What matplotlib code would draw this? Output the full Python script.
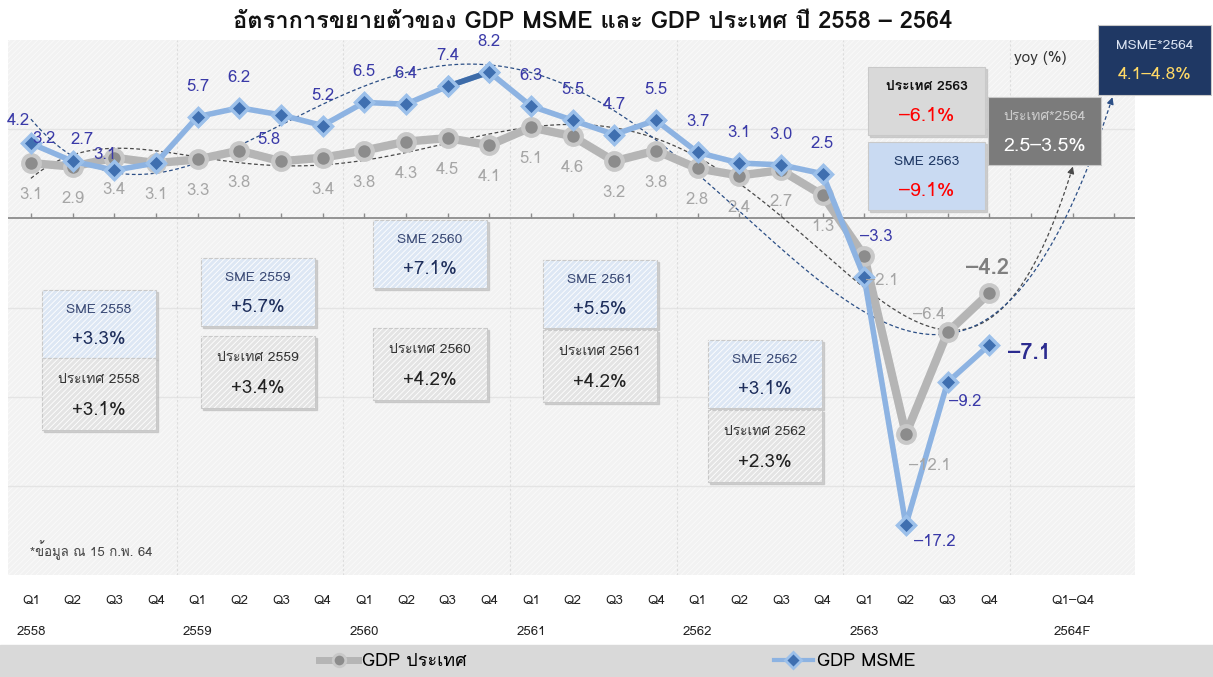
import numpy as np
import matplotlib
matplotlib.use("Agg")
import matplotlib.pyplot as plt
from matplotlib import font_manager, ft2font
from matplotlib.patches import Rectangle
from matplotlib.lines import Line2D

# find a font that has Thai glyphs
def find_thai():
    names = []
    for f in font_manager.fontManager.ttflist:
        try:
            cm = ft2font.FT2Font(f.fname).get_charmap()
        except Exception:
            continue
        if 0x0E01 in cm:
            names.append(f.name)
    return names

thai = find_thai()
FAM = (thai[:1] if thai else []) + ["DejaVu Sans"]
plt.rcParams["font.family"] = FAM
plt.rcParams["hatch.linewidth"] = 0.6

# data
quarters = ["Q1", "Q2", "Q3", "Q4"] * 6 + ["", "Q1–Q4"]
years = ["2558", "2559", "2560", "2561", "2562", "2563", "2564F"]
gdp_country = [3.1, 2.9, 3.4, 3.1, 3.3, 3.8, 3.2, 3.4, 3.8, 4.3, 4.5, 4.1,
               5.1, 4.6, 3.2, 3.8, 2.8, 2.4, 2.7, 1.3, -2.1, -12.1, -6.4, -4.2]
gdp_msme = [4.2, 3.2, 2.7, 3.1, 5.7, 6.2, 5.8, 5.2, 6.5, 6.4, 7.4, 8.2,
            6.3, 5.5, 4.7, 5.5, 3.7, 3.1, 3.0, 2.5, -3.3, -17.2, -9.2, -7.1]
sme_year = ["+3.3%", "+5.7%", "+7.1%", "+5.5%", "+3.1%"]
country_year = ["+3.1%", "+3.4%", "+4.2%", "+4.2%", "+2.3%"]
sme_2563, country_2563 = -9.1, -6.1
country_2564 = (2.5, 3.5)
msme_2564 = (4.1, 4.8)

# label offsets in pixels (dx, dy down)
msme_off = [(-13, -22), (-29, -22), (-32, -30), (-51, -8)] + [(0, -30)] * 2 + [(-12, 25)] + \
           [(0, -30)] * 13 + [(12, -40), (29, 17), (18, 20), (40, 8)]
country_off = [(0, 32)] * 20 + [(18, 25), (24, 32), (-18, -17), (-2, -25)]

W, H = 1213, 677
fig = plt.figure(figsize=(W / 100, H / 100), dpi=100)
ax = fig.add_axes([8 / W, 1 - 575 / H, 1127 / W, 535 / H])
ax.set_facecolor("#f2f2f2")
ax.add_patch(Rectangle((0, 0), 1, 1, transform=ax.transAxes, fill=False,
                       hatch="//////", edgecolor="#fafafa", lw=0, zorder=0))
ax.set_xlim(-0.55, 26.5)
ax.set_ylim(-20, 10)
for s in ax.spines.values():
    s.set_visible(False)
ax.set_xticks([])
ax.set_yticks([])

for yv in [5, -5, -10, -15]:
    ax.axhline(yv, color="#e4e4e4", lw=1, zorder=1)
for xv in np.arange(3.5, 24, 4):
    ax.axvline(xv, color="#dddddd", lw=0.8, ls=(0, (2, 2)), zorder=1)
ax.axhline(0, color="#8c8c8c", lw=1.3, zorder=2)
ax.vlines(np.arange(27), 0, 0.3, color="#8c8c8c", lw=1, zorder=2)

x = np.arange(len(gdp_msme))

# polynomial trend lines (fitted with the 2564 forecast midpoint), ending at the forecast boxes
inv = ax.transData.inverted()
for vals, fc, deg, box_bottom, col in [(gdp_country, np.mean(country_2564), 5, 165, "#4a4a4a"),
                                       (gdp_msme, np.mean(msme_2564), 4, 95, "#2c4f86")]:
    p = np.polyfit(np.append(x, 25), np.append(vals, fc), deg)
    yend = inv.transform((0, H - box_bottom))[1]
    xs = np.linspace(0, 27, 2700)
    ys = np.polyval(p, xs)
    stop = np.argmax((xs > 23) & (ys >= yend))
    xs, ys = xs[:stop + 1], ys[:stop + 1]
    ax.plot(xs[:-8], ys[:-8], color=col, lw=0.9, ls=(0, (3, 2)), zorder=3)
    ax.annotate("", xy=(xs[-1], ys[-1]), xytext=(xs[-10], ys[-10]),
                arrowprops=dict(arrowstyle="-|>", color=col, lw=0.9,
                                mutation_scale=10), zorder=3)

lc, = ax.plot(x, gdp_country, color="#b5b5b5", lw=6, marker="o", ms=12,
              mfc="#8c8c8c", mec="#c8c8c8", mew=3, zorder=4, solid_capstyle="round")
lm, = ax.plot(x, gdp_msme, color="#8db3e2", lw=4, marker="D", ms=9,
              mfc="#3f6fb0", mec="#9cc0ea", mew=2.5, zorder=5)
ax.plot(x[10:12], gdp_msme[10:12], color="#3d6ba8", lw=4, zorder=5)
ax.plot(x[10:12], gdp_msme[10:12], ls="none", marker="D", ms=9,
        mfc="#3f6fb0", mec="#9cc0ea", mew=2.5, zorder=5)

for i, v in enumerate(gdp_msme):
    dx, dy = msme_off[i]
    big = i == len(gdp_msme) - 1
    ax.annotate(f"{v:.1f}".replace("-", "–"), (i, v), xytext=(dx, -dy),
                textcoords="offset pixels", ha="center", va="center",
                fontsize=16 if big else 12, color="#2b2b8f" if big else "#3a3aa8",
                fontweight="bold" if big else "normal", zorder=6)
for i, v in enumerate(gdp_country):
    if i == 6:
        continue
    dx, dy = country_off[i]
    big = i == len(gdp_country) - 1
    ax.annotate(f"{v:.1f}".replace("-", "–"), (i, v), xytext=(dx, -dy),
                textcoords="offset pixels", ha="center", va="center",
                fontsize=16 if big else 12, color="#7f7f7f" if big else "#a6a6a6",
                fontweight="bold" if big else "normal", zorder=6)

# x labels
tr = ax.get_xaxis_transform()
for i, q in enumerate(quarters):
    ax.text(i, -26 / 535, q, transform=tr, ha="center", va="center", fontsize=9.5, color="#222222")
for k, yr in enumerate(years):
    ax.text(4 * k + (1 if k == 6 else 0), -57 / 535, yr, transform=tr, ha="center",
            va="center", fontsize=9.5, color="#222222")


def box(left, top, w, h, title, value, fc, tc, vc, tsize=10, vsize=13.5,
        tweight="normal", hatch=True, shadow=True):
    x0, y0 = left / W, 1 - (top + h) / H
    if shadow:
        fig.add_artist(Rectangle((x0 + 2 / W, y0 - 2 / H), w / W, h / H,
                                 transform=fig.transFigure, color="#b8b8b8", alpha=0.6, zorder=7))
    fig.add_artist(Rectangle((x0, y0), w / W, h / H, transform=fig.transFigure,
                             facecolor=fc, edgecolor="#c9c9c9", lw=0.8, zorder=8))
    if hatch:
        fig.add_artist(Rectangle((x0, y0), w / W, h / H, transform=fig.transFigure,
                                 fill=False, hatch="//////", edgecolor="#ffffff", lw=0, zorder=8))
    fig.text((left + w / 2) / W, 1 - (top + h * 0.3) / H, title, ha="center", va="center",
             fontsize=tsize, color=tc, fontweight=tweight, zorder=9)
    fig.text((left + w / 2) / W, 1 - (top + h * 0.72) / H, value, ha="center", va="center",
             fontsize=vsize, color=vc, zorder=9)


sme_pos = [(42, 290), (201, 258), (373, 220), (543, 260), (708, 340)]
cty_pos = [(42, 358), (201, 336), (373, 328), (543, 330), (708, 410)]
for k in range(5):
    box(*sme_pos[k], 114, 68, f"SME {years[k]}", sme_year[k], "#dde7f4", "#3b4a75", "#1f2f5c")
    box(*cty_pos[k], 114, 72, f"ประเทศ {years[k]}", country_year[k], "#e4e4e4", "#333333", "#222222")

box(868, 67, 117, 68, "ประเทศ 2563", f"{country_2563:.1f}%".replace("-", "–"), "#d9d9d9",
    "#111111", "#ff0000", tweight="bold", vsize=14, hatch=False)
box(868, 142, 117, 68, "SME 2563", f"{sme_2563:.1f}%".replace("-", "–"), "#c9daf2",
    "#1f3864", "#ff0000", vsize=14, hatch=False)
box(988, 97, 113, 68, "ประเทศ*2564", f"{country_2564[0]}–{country_2564[1]}%", "#7b7b7b",
    "#cfcfcf", "#ffffff", vsize=14, hatch=False, shadow=False)
box(1098, 25, 113, 70, "MSME*2564", f"{msme_2564[0]}–{msme_2564[1]}%", "#1f3864",
    "#dbe4f3", "#ffd966", vsize=12.5, hatch=False, shadow=False)

fig.text(1040 / W, 1 - 58 / H, "yoy (%)", ha="center", va="center", fontsize=11, color="#333333")
fig.text(30 / W, 1 - 550 / H, "*ข้อมูล ณ 15 ก.พ. 64", ha="left", va="center", fontsize=9.5,
         color="#444444")
fig.text(593 / W, 1 - 22 / H, "อัตราการขยายตัวของ GDP MSME และ GDP ประเทศ ปี 2558 – 2564",
         ha="center", va="center", fontsize=17, fontweight="bold", color="#111111")

# legend band
fig.add_artist(Rectangle((0, 0), 1, 32 / H, transform=fig.transFigure, color="#d9d9d9", zorder=0))
h1 = Line2D([], [], color="#b5b5b5", lw=5, marker="o", ms=9, mfc="#8c8c8c", mec="#c8c8c8", mew=2)
h2 = Line2D([], [], color="#8db3e2", lw=3, marker="D", ms=8, mfc="#3f6fb0", mec="#9cc0ea", mew=2)
fig.legend([h1, h2], ["GDP ประเทศ", "GDP MSME"], loc="center", bbox_to_anchor=(617 / W, 16 / H),
           ncol=2, frameon=False, fontsize=13, columnspacing=17, handlelength=2.2, handletextpad=0.2)

fig.savefig("out.png", dpi=100)
